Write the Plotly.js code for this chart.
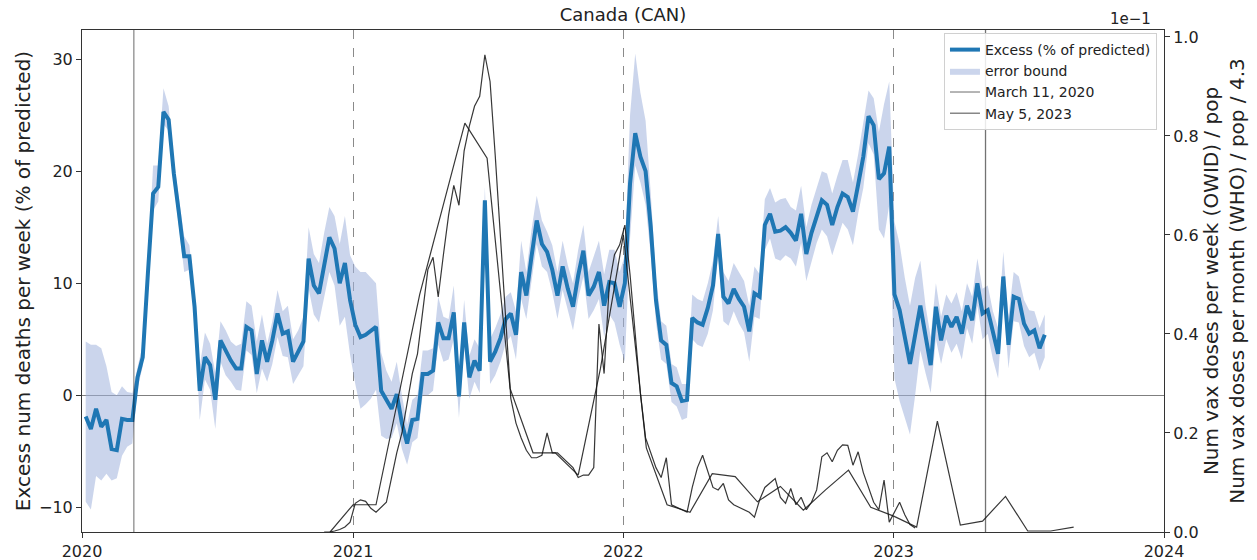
<!DOCTYPE html>
<html><head><meta charset="utf-8">
<script src="https://cdn.plot.ly/plotly-3.0.1.min.js"></script>
<style>html,body{margin:0;padding:0;background:#fff}#chart{width:1257px;height:560px}</style>
</head><body><div id="chart"></div>
<script>
// ---- data ----
const excessStart = '2020-01-06';   // weekly series start
const excessPct = [
 -1.9,-3.0,-1.2,-2.8,-2.2,-4.8,-4.9,-2.1,-2.2,-2.2,
 1.6,3.4,10.9,18.0,18.6,25.3,24.6,19.8,16.2,12.4,
 12.4,7.9,0.4,3.4,2.7,-0.4,4.9,4.0,3.1,2.4,
 2.4,6.1,5.8,1.9,4.9,3.0,4.9,7.3,5.5,5.7,
 3.0,3.9,4.8,12.2,9.8,9.1,11.8,14.1,13.1,10.0,
 11.8,8.5,6.3,5.2,5.4,5.8,6.1,0.4,-0.4,-1.2,
 0.1,-2.5,-4.3,-2.2,-2.1,1.9,1.9,2.2,6.5,5.1,
 5.1,7.4,-0.1,6.5,1.6,3.1,2.2,17.4,3.0,3.9,
 5.1,6.8,7.3,5.4,11.0,8.9,12.4,15.6,13.5,12.8,
 11.2,8.9,11.5,9.5,7.9,10.7,12.9,8.9,9.7,11.0,
 8.0,10.1,10.0,7.9,10.0,18.9,23.4,21.3,20.0,15.0,
 8.5,4.9,4.5,1.1,0.8,-0.5,-0.4,6.9,6.5,6.3,
 7.8,9.8,14.4,8.8,8.2,9.5,8.6,7.9,5.7,9.1,
 8.8,15.2,16.2,14.6,14.7,15.0,14.5,13.8,16.2,12.6,
 14.5,16.0,17.4,17.0,15.2,16.8,18.0,17.7,16.4,18.8,
 21.3,24.9,24.1,19.3,19.8,22.2,9.0,7.6,5.2,2.8,
 5.4,8.0,5.3,2.7,7.9,4.9,7.1,6.1,7.0,5.5,
 8.0,6.7,10.0,7.3,7.6,5.5,3.7,10.6,4.5,8.8,
 8.6,6.4,5.5,5.8,4.2,5.4
];
const errorUpper = [
 4.8,4.5,4.5,4.2,2.6,0.3,0.0,0.8,0.3,0.2,
 2.5,4.5,12.0,20.5,20.5,27.4,25.8,21.0,17.5,14.2,
 13.4,9.0,2.6,5.6,4.6,2.0,6.6,5.8,4.8,4.4,
 4.6,8.4,8.0,4.8,7.2,4.6,6.6,9.4,7.5,8.0,
 5.0,5.8,7.0,15.0,12.6,11.8,14.5,16.8,16.0,13.5,
 16.0,12.5,11.5,11.0,11.0,10.5,10.0,3.8,2.2,1.2,
 3.0,0.0,-2.6,-0.4,0.0,4.0,4.0,4.2,8.8,7.0,
 6.8,9.8,2.2,8.5,3.5,5.0,4.2,18.6,5.0,6.0,
 7.2,8.8,9.2,7.5,13.8,11.0,14.8,17.8,15.6,14.6,
 13.4,11.0,13.8,11.6,10.0,13.0,15.2,11.0,12.4,13.8,
 10.8,13.0,13.0,11.0,12.5,25.0,30.5,27.0,24.5,18.0,
 10.5,6.6,6.2,2.8,2.5,1.0,1.0,9.0,8.6,8.4,
 10.0,12.0,16.0,11.0,10.2,11.8,11.0,10.2,8.0,11.5,
 10.8,17.5,18.5,17.2,17.5,17.6,16.8,16.5,18.7,15.0,
 17.0,18.5,20.0,19.8,18.0,19.6,21.0,21.0,19.0,21.5,
 24.5,27.2,26.5,23.5,26.0,28.0,15.5,13.5,10.5,8.0,
 10.5,12.0,8.0,5.2,10.0,7.0,9.0,8.2,9.2,7.5,
 10.0,8.8,12.2,9.5,9.8,7.5,6.0,12.8,7.0,11.0,
 10.6,8.5,7.6,7.5,6.0,7.2
];
const errorLower = [
 -9.5,-10.2,-7.2,-7.6,-7.0,-7.6,-7.4,-5.4,-4.6,-4.3,
 0.6,2.6,10.0,16.5,17.3,24.2,23.6,18.7,15.0,11.0,
 11.2,6.8,-2.2,1.4,0.5,-3.0,3.0,1.8,1.2,0.5,
 0.4,4.0,3.6,0.2,2.4,1.2,2.8,5.2,3.5,3.4,
 1.0,1.8,2.6,9.5,7.2,6.5,8.8,11.0,9.8,6.2,
 7.0,3.6,1.0,-1.2,-0.8,-0.3,0.5,-3.6,-3.9,-3.8,
 -2.5,-4.8,-6.2,-4.2,-3.8,0.0,0.0,0.4,4.5,3.0,
 3.2,5.0,-2.0,4.4,-0.3,1.2,0.2,16.2,1.0,1.8,
 3.0,4.6,5.3,3.2,8.6,6.8,10.2,13.5,11.5,11.0,
 9.2,6.8,9.4,7.6,5.8,8.6,10.6,6.8,7.6,8.6,
 5.2,7.2,6.5,4.5,3.0,14.0,20.5,19.0,17.0,12.5,
 6.5,3.2,2.8,-0.6,-1.0,-2.2,-2.0,5.0,4.5,4.3,
 5.5,7.6,12.6,6.6,6.2,7.5,6.4,5.6,3.0,7.0,
 6.8,13.0,14.0,12.2,12.0,12.5,12.2,11.5,13.6,10.2,
 12.0,13.6,14.8,14.2,12.5,14.0,15.4,14.8,13.4,16.2,
 18.5,22.5,21.5,14.8,14.0,17.0,1.5,-0.5,-2.0,-3.5,
 0.0,4.0,2.0,0.2,5.0,2.8,5.0,3.8,4.6,3.2,
 6.0,4.6,8.0,5.0,5.5,3.2,1.5,8.5,2.4,6.6,
 6.5,4.4,3.4,3.8,2.2,3.4
];
// vaccination series, in units of 1e-1 (as on the right axis)
const owidStart = '2020-11-23';     // weekly series start
const owidWeekly = [
 0.0,0.0,0.002,0.005,0.01,0.02,0.058,0.065,0.062,0.048,
 0.04,0.05,0.06,0.11,0.16,0.20,0.26,0.32,0.36,0.44,
 0.53,0.555,0.475,0.56,0.64,0.70,0.66,0.77,0.82,0.86,
 0.88,0.964,0.91,0.76,0.60,0.43,0.27,0.22,0.19,0.165,
 0.15,0.15,0.155,0.20,0.16,0.16,0.15,0.14,0.13,0.11,
 0.115,0.115,0.13,0.42,0.32,0.50,0.56,0.58,0.62,0.52,
 0.40,0.28,0.19,0.16,0.13,0.11,0.15,0.055,0.05,0.045,
 0.04,0.09,0.13,0.155,0.12,0.09,0.085,0.098,0.065,0.055,
 0.05,0.045,0.04,0.03,0.065,0.09,0.10,0.108,0.07,0.058,
 0.088,0.055,0.07,0.045,0.06,0.085,0.152,0.16,0.142,0.165,
 0.176,0.175,0.135,0.162,0.12,0.09,0.06,0.045,0.105,0.02,
 0.04,0.06,0.035,0.015,0.008
];
const whoStart = '2020-12-01';      // monthly series start
const whoMonthly = [
 0.0,
 0.055,0.055,0.26,0.48,0.65,0.826,0.755,0.29,0.16,0.16,0.115,0.33,
 0.60,0.17,0.055,0.04,0.118,0.112,0.061,0.092,0.044,0.085,0.125,0.05,
 0.032,0.01,0.224,0.014,0.022,0.072,0.002,0.002,0.01
];
const markerDates = ['2020-03-11','2023-05-05'];
const markerNames = ['March 11, 2020','May 5, 2023'];
const yLeftRange = [-12.2, 32.6];
const yLeftTicks = [-10, 0, 10, 20, 30];

// ---- helpers for date axes ----
function weeklyDates(start, n){
  const d0 = new Date(start + 'T00:00:00Z').getTime();
  return Array.from({length:n}, (_, i) => new Date(d0 + i*7*864e5).toISOString().slice(0,10));
}
function monthlyDates(start, n){
  const d = new Date(start + 'T00:00:00Z');
  return Array.from({length:n}, (_, i) => {
    const m = new Date(Date.UTC(d.getUTCFullYear(), d.getUTCMonth() + i, 1));
    return m.toISOString().slice(0,10);
  });
}
const exDates = weeklyDates(excessStart, excessPct.length);
const owDates = weeklyDates(owidStart, owidWeekly.length);
const whDates = monthlyDates(whoStart, whoMonthly.length);

const traces = [
  {x: exDates, y: errorLower, type:'scatter', mode:'lines', line:{width:0}, showlegend:false, hoverinfo:'skip'},
  {x: exDates, y: errorUpper, type:'scatter', mode:'lines', line:{width:0}, fill:'tonexty',
   fillcolor:'rgba(160,178,220,0.55)', name:'error bound', legendrank:2, hoverinfo:'skip'},
  {x: exDates, y: excessPct, type:'scatter', mode:'lines', line:{color:'#1f77b4', width:4},
   name:'Excess (% of predicted)', legendrank:1},
  {x:[markerDates[0], markerDates[0]], y: yLeftRange, type:'scatter', mode:'lines',
   line:{color:'rgba(0,0,0,0.45)', width:1.3}, name: markerNames[0], legendrank:3},
  {x:[markerDates[1], markerDates[1]], y: yLeftRange, type:'scatter', mode:'lines',
   line:{color:'rgba(0,0,0,0.55)', width:1.3}, name: markerNames[1], legendrank:4},
  {x: owDates, y: owidWeekly, type:'scatter', mode:'lines', yaxis:'y2',
   line:{color:'rgba(20,20,20,0.85)', width:1.2}, showlegend:false},
  {x: whDates, y: whoMonthly, type:'scatter', mode:'lines', yaxis:'y2',
   line:{color:'rgba(20,20,20,0.85)', width:1.2}, showlegend:false}
];

const layout = {
  width:1257, height:560,
  margin:{l:82, r:93, t:30, b:28},
  paper_bgcolor:'#fff', plot_bgcolor:'#fff',
  font:{family:'DejaVu Sans, sans-serif', size:16, color:'#222'},
  title:{text:'Canada (CAN)', font:{size:18}, x:0.5, xref:'paper', xanchor:'center',
         y:0.973, yref:'container', yanchor:'middle'},
  xaxis:{type:'date', range:['2020-01-01','2024-01-01'], tick0:'2020-01-01', dtick:'M12',
         tickformat:'%Y', showgrid:true, gridcolor:'#8a8a8a', griddash:'dash', gridwidth:1,
         showline:true, mirror:true, linecolor:'#333', linewidth:1,
         ticks:'outside', ticklen:5, tickcolor:'#333', zeroline:false, tickfont:{size:16}},
  yaxis:{range:yLeftRange, tickvals:yLeftTicks, showgrid:false,
         zeroline:true, zerolinecolor:'#7f7f7f', zerolinewidth:1.5,
         showline:true, mirror:true, linecolor:'#333', linewidth:1,
         ticks:'outside', ticklen:5, tickcolor:'#333', tickfont:{size:16},
         title:{text:'Excess num deaths per week (% of predicted)', font:{size:20}, standoff:3}},
  yaxis2:{overlaying:'y', side:'right', range:[0, 1.014], tick0:0, dtick:0.2, tickformat:'.1f',
          showgrid:false, zeroline:false, showline:false,
          ticks:'outside', ticklen:5, tickcolor:'#333', tickfont:{size:16},
          title:{text:'Num vax doses per week (OWID) / pop<br>Num vax doses per month (WHO) / pop / 4.3',
                 font:{size:20}, standoff:5}},
  legend:{x:0.9935, xanchor:'right', y:0.994, yanchor:'top', traceorder:'normal',
          bgcolor:'rgba(255,255,255,0.85)', bordercolor:'#d0d0d0', borderwidth:1, font:{size:14}},
  annotations:[{text:'1e\u22121', xref:'paper', yref:'paper', x:0.99, y:1, xanchor:'right',
                yanchor:'bottom', showarrow:false, font:{size:15}}]
};

Plotly.newPlot('chart', traces, layout, {displayModeBar:false, staticPlot:true});
</script>
</body></html>
